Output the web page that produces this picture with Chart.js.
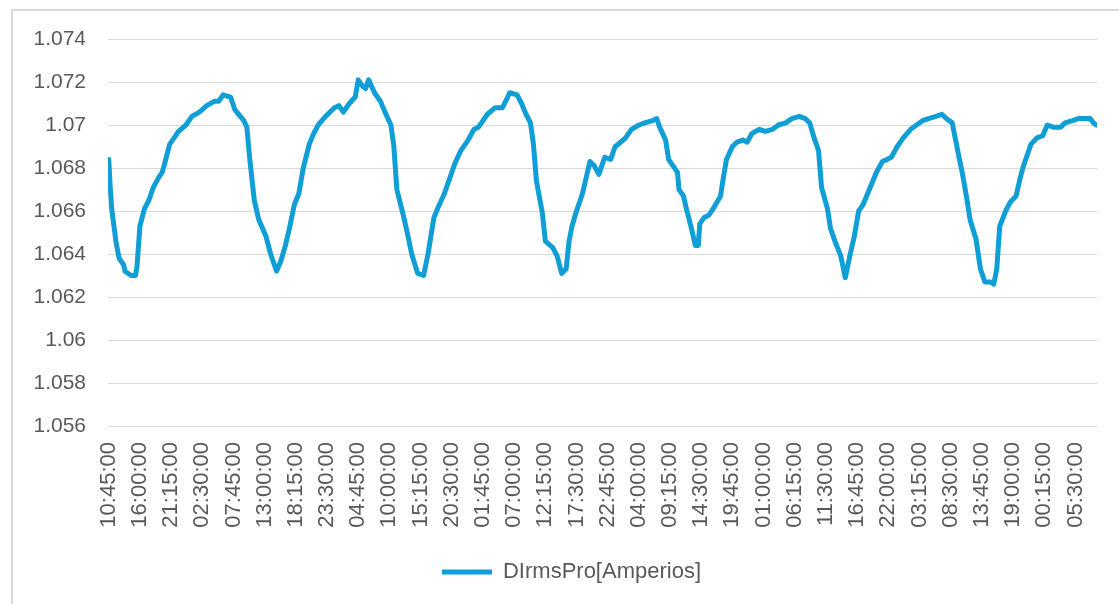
<!DOCTYPE html>
<html>
<head>
<meta charset="utf-8">
<script src="https://cdn.jsdelivr.net/npm/chart.js@4"></script>
<style>
  html, body { margin: 0; padding: 0; background: #fff; overflow: hidden; }
  #frame {
    position: absolute; left: 11px; top: 9px;
    width: 1200px; height: 700px;
    border: 2px solid #d9d9d9;
  }
  #myChart { position: absolute; left: 0; top: 0; }
</style>
</head>
<body>
<div id="frame"></div>
<canvas id="myChart" width="1119" height="604"></canvas>
<script>
// quarter-hour sample index (0 = first reading at 10:45:00)
const sampleIndex = [
  0, 1, 2, 5, 7, 10, 11, 15, 18, 19, 21, 24, 27, 30, 34, 36, 38, 41, 44, 47,
  52, 56, 61, 66, 71, 74, 77, 82, 85, 91, 93, 95, 98, 101, 106, 109, 113, 116, 119, 122,
  125, 128, 131, 135, 138, 141, 146, 152, 155, 158, 162, 166, 168, 171, 173, 175, 179, 183, 186, 190,
  192, 194, 198, 201, 204, 208, 212, 215, 219, 222, 226, 230, 233, 237, 242, 246, 249, 255, 260, 265,
  268, 270, 275, 278, 281, 284, 286, 288, 292, 294, 299, 302, 305, 308, 310, 312, 315, 319, 322, 324,
  327, 330, 332, 334, 338, 341, 343, 348, 352, 357, 361, 366, 369, 371, 375, 377, 380, 383, 384, 387,
  389, 392, 395, 397, 398, 401, 404, 407, 412, 414, 416, 420, 423, 427, 430, 433, 438, 442, 447, 451,
  456, 460, 465, 469, 472, 475, 478, 480, 484, 486, 489, 493, 496, 499, 502, 505, 508, 511, 514, 517,
  521, 524, 527, 531, 535, 540, 544, 548, 552, 557, 561, 564, 568, 570, 572, 575, 578, 580, 584, 587,
  590, 594, 596, 598, 600, 604, 607, 611, 614, 616, 618, 621, 625, 629, 632, 636, 641, 644, 649, 653,
  658, 661, 663, 665
];

const dirmsValues = [
  1.0684, 1.0671, 1.0661, 1.0645, 1.0638, 1.0635, 1.0632, 1.0630, 1.0630, 1.0634, 1.0653, 1.0661, 1.0665, 1.0671, 1.0676, 1.0678, 1.0683, 1.0691, 1.0694, 1.0697,
  1.0700, 1.0704, 1.0706, 1.0709, 1.0711, 1.0711, 1.0714, 1.0713, 1.0707, 1.0702, 1.0699, 1.0684, 1.0665, 1.0656, 1.0648, 1.0640, 1.0632, 1.0637, 1.0644, 1.0653,
  1.0663, 1.0668, 1.0680, 1.0691, 1.0696, 1.0700, 1.0704, 1.0708, 1.0709, 1.0706, 1.0710, 1.0713, 1.0721, 1.0718, 1.0717, 1.0721, 1.0715, 1.0711, 1.0706, 1.0700,
  1.0690, 1.0670, 1.0659, 1.0650, 1.0640, 1.0631, 1.0630, 1.0640, 1.0657, 1.0662, 1.0668, 1.0676, 1.0682, 1.0688, 1.0693, 1.0698, 1.0699, 1.0705, 1.0708, 1.0708,
  1.0712, 1.0715, 1.0714, 1.0710, 1.0705, 1.0701, 1.0691, 1.0674, 1.0659, 1.0646, 1.0643, 1.0639, 1.0631, 1.0633, 1.0646, 1.0653, 1.0660, 1.0668, 1.0677, 1.0683,
  1.0681, 1.0677, 1.0681, 1.0685, 1.0684, 1.0690, 1.0691, 1.0694, 1.0698, 1.0700, 1.0701, 1.0702, 1.0703, 1.0699, 1.0693, 1.0684, 1.0681, 1.0678, 1.0670, 1.0667,
  1.0661, 1.0653, 1.0644, 1.0644, 1.0654, 1.0657, 1.0658, 1.0661, 1.0667, 1.0676, 1.0684, 1.0690, 1.0692, 1.0693, 1.0692, 1.0696, 1.0698, 1.0697, 1.0698, 1.0700,
  1.0701, 1.0703, 1.0704, 1.0703, 1.0701, 1.0694, 1.0688, 1.0671, 1.0661, 1.0652, 1.0646, 1.0639, 1.0629, 1.0639, 1.0648, 1.0660, 1.0663, 1.0668, 1.0673, 1.0678,
  1.0683, 1.0684, 1.0685, 1.0690, 1.0694, 1.0698, 1.0700, 1.0702, 1.0703, 1.0704, 1.0705, 1.0703, 1.0701, 1.0694, 1.0687, 1.0677, 1.0665, 1.0656, 1.0647, 1.0633,
  1.0627, 1.0627, 1.0626, 1.0633, 1.0653, 1.0660, 1.0664, 1.0667, 1.0676, 1.0681, 1.0685, 1.0691, 1.0694, 1.0695, 1.0700, 1.0699, 1.0699, 1.0701, 1.0702, 1.0703,
  1.0703, 1.0703, 1.0701, 1.0700
];

// one label every 21 samples (5h15m)
const timeLabels = [
  "10:45:00", "16:00:00", "21:15:00", "02:30:00", "07:45:00", "13:00:00", "18:15:00", "23:30:00",
  "04:45:00", "10:00:00", "15:15:00", "20:30:00", "01:45:00", "07:00:00", "12:15:00", "17:30:00",
  "22:45:00", "04:00:00", "09:15:00", "14:30:00", "19:45:00", "01:00:00", "06:15:00", "11:30:00",
  "16:45:00", "22:00:00", "03:15:00", "08:30:00", "13:45:00", "19:00:00", "00:15:00", "05:30:00"
];
const labelStep = 21;
const sampleCount = 666;

const textColor = "#595959";
const fontFamily = "'Liberation Sans', Arial, sans-serif";

const ctx = document.getElementById("myChart").getContext("2d");

// Excel's chart box is wider than the picture, so its legend sits right of centre
const shiftLegend = {
  id: "shiftLegend",
  afterLayout(chart) {
    const legend = chart.legend;
    if (!legend) return;
    legend.left += 23;
    legend.right += 23;
  },
};

new Chart(ctx, {
  type: "line",
  data: {
    datasets: [
      {
        label: "DIrmsPro[Amperios]",
        data: sampleIndex.map((x, i) => ({ x: x, y: dirmsValues[i] })),
        borderColor: "#0F9ED5",
        backgroundColor: "#0F9ED5",
        borderWidth: 5,
        borderCapStyle: "round",
        borderJoinStyle: "round",
        pointRadius: 0,
        tension: 0,
      },
    ],
  },
  options: {
    responsive: false,
    devicePixelRatio: 1,
    animation: false,
    layout: {
      padding: { top: 39, left: 0, right: 22, bottom: 11 },
    },
    scales: {
      x: {
        type: "linear",
        min: -0.5,
        max: sampleCount - 0.5,
        afterBuildTicks(scale) {
          scale.ticks = timeLabels.map((_, i) => ({ value: i * labelStep }));
        },
        afterFit(scale) {
          scale.height = 125;
        },
        ticks: {
          autoSkip: false,
          minRotation: 90,
          maxRotation: 90,
          padding: 8,
          color: textColor,
          font: { family: fontFamily, size: 22 },
          callback: (value, index) => timeLabels[index],
        },
        grid: { display: false },
        border: { display: false },
      },
      y: {
        min: 1.056,
        max: 1.074,
        afterFit(scale) {
          scale.width = 108;
        },
        ticks: {
          stepSize: 0.002,
          padding: 22,
          color: textColor,
          font: { family: fontFamily, size: 21 },
          callback: (value) => String(+value.toFixed(3)),
        },
        grid: { color: "#d9d9d9", lineWidth: 1, drawTicks: false },
        border: { display: false },
      },
    },
    plugins: {
      legend: {
        position: "bottom",
        labels: {
          usePointStyle: true,
          pointStyle: "line",
          pointStyleWidth: 50,
          padding: 10,
          color: textColor,
          font: { family: fontFamily, size: 22 },
        },
      },
      tooltip: { enabled: false },
    },
  },
  plugins: [shiftLegend],
});
</script>
</body>
</html>
